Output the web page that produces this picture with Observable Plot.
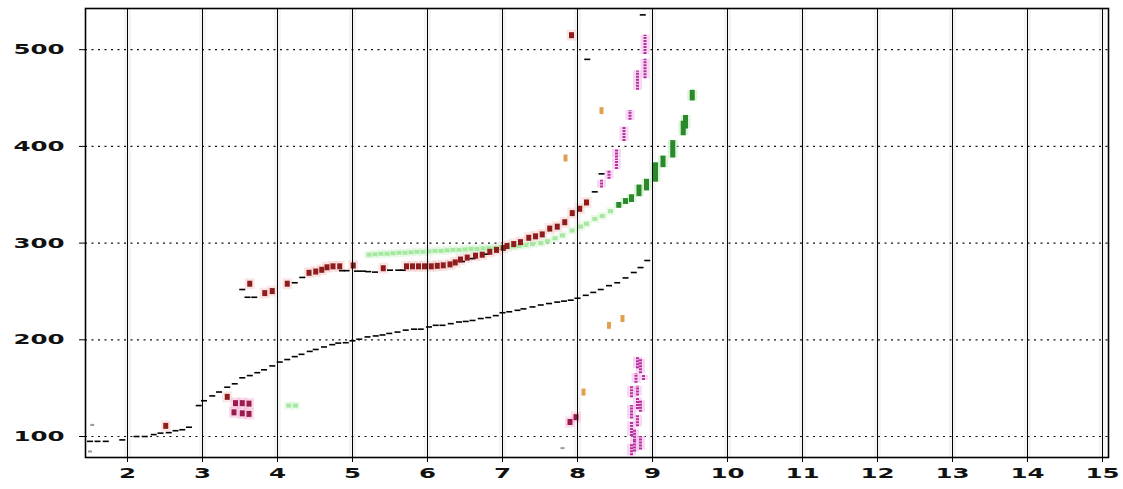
<!DOCTYPE html>
<html>
<head>
<meta charset="utf-8">
<script src="https://cdn.jsdelivr.net/npm/d3@7"></script>
<script src="https://cdn.jsdelivr.net/npm/@observablehq/plot@0.6"></script>
<style>
  html, body { margin: 0; padding: 0; background: #fff; }
  #chart svg { display: block; }
</style>
</head>
<body>
<div id="chart"></div>
<script>
// Axis ticks
const xTicks = [2, 3, 4, 5, 6, 7, 8, 9, 10, 11, 12, 13, 14, 15];
const yTicks = [100, 200, 300, 400, 500];

// Lower black dashed trace
const lowerX = [1.50, 1.60, 1.71, 1.93, 2.12, 2.23, 2.35, 2.44, 2.55, 2.64, 2.73, 2.82,
  2.95, 3.02, 3.13, 3.22, 3.33, 3.43, 3.53, 3.63, 3.73, 3.82, 3.93, 4.03, 4.13, 4.23, 4.32,
  4.43, 4.51, 4.62, 4.73, 4.81, 4.91, 5.00, 5.09, 5.20, 5.31, 5.40, 5.49, 5.60, 5.71, 5.82,
  5.91, 6.02, 6.11, 6.20, 6.31, 6.42, 6.51, 6.60, 6.71, 6.81, 6.91, 7.00, 7.09, 7.20, 7.28,
  7.40, 7.51, 7.62, 7.73, 7.82, 7.91, 8.00, 8.11, 8.21, 8.31, 8.42, 8.53, 8.64, 8.75, 8.84, 8.93];
const lowerY = [95, 95, 95, 96.5, 100, 100, 102, 103.5, 104, 106, 107, 109.6,
  132, 137, 142, 146, 151, 154.5, 160.7, 163, 166, 169, 173, 177, 179.6, 182.6, 185,
  188, 190, 192.6, 195, 196.6, 197, 199, 200.6, 203, 204, 205, 206.6, 208, 210, 211,
  211, 213.3, 215, 215, 216.7, 218.4, 219, 220, 222, 223, 225, 228, 229, 230.5, 232,
  234, 236, 237.5, 239, 240, 241, 243, 246, 249, 252, 256, 259, 264, 269.6, 274.7, 282];

// Upper black dashes (partly hidden under the red trace)
const upperX = [3.53, 3.60, 3.69, 4.23, 4.33, 4.86, 4.92, 5.06, 5.14, 5.21, 5.30, 5.50, 5.61, 5.67,
  6.46, 6.60, 6.78, 7.00, 8.23, 8.32, 8.13, 8.87];
const upperY = [252, 244, 244, 259, 264.5, 271.5, 271.5, 271, 271, 270.5, 270, 272, 272, 272,
  281, 284, 288.5, 294, 353, 371.6, 490, 536];

// Dark red trace
const redX = [2.51, 3.33, 3.63, 3.83, 3.93, 4.13, 4.42, 4.51, 4.59, 4.66, 4.74, 4.83, 5.01, 5.41,
  5.72, 5.80, 5.88, 5.96, 6.05, 6.13, 6.21, 6.30, 6.37, 6.44, 6.53, 6.64, 6.73, 6.83, 6.92,
  7.01, 7.06, 7.15, 7.24, 7.35, 7.44, 7.53, 7.63, 7.73, 7.83, 7.93, 8.03, 8.12, 7.92];
const redY = [111, 141, 258, 248.3, 250.4, 258, 269.3, 270.6, 272.4, 275, 276, 276, 276.8, 274,
  276, 276, 276, 276, 276, 276.5, 277, 278, 280, 283, 285, 287, 288, 291, 293,
  295, 297, 299, 301, 305.5, 307, 309, 315, 317, 321.6, 331, 335.5, 342, 515];

// Crimson cluster near x = 3.5
const crimsonX = [3.44, 3.53, 3.62, 3.42, 3.53, 3.62, 7.98, 7.90];
const crimsonY = [134.5, 134.5, 134, 125, 124, 123.4, 120, 115];

// Pale green trace
const paleX = [4.15, 4.24, 5.22, 5.30, 5.38, 5.46, 5.54, 5.62, 5.70, 5.78, 5.86, 5.94, 6.02, 6.10,
  6.18, 6.26, 6.34, 6.42, 6.50, 6.58, 6.66, 6.74, 6.82, 6.90, 6.98, 7.06, 7.14, 7.22, 7.31,
  7.40, 7.51, 7.60, 7.70, 7.80, 7.93, 8.04, 8.12, 8.23, 8.33, 8.44];
const paleY = [132, 132, 288, 288.5, 289, 289, 289.5, 290, 290, 290.5, 291, 291, 291.5, 292,
  292, 292.5, 293, 293, 293.5, 294, 294, 294.5, 295, 295, 295.5, 296, 296.5, 297, 298,
  299, 300, 302, 305, 308, 313, 317, 320, 325, 328, 333];

// Dark green bars (low / high)
const greenX = [8.55, 8.64, 8.72, 8.82, 8.92, 9.04, 9.14, 9.27, 9.41, 9.44, 9.53];
const greenLo = [336, 340, 342, 348, 354, 363, 378, 388, 411, 418, 447];
const greenHi = [342, 346, 350, 360, 366, 383, 390, 406, 426, 432, 458];

// Magenta bars (low / high)
const magX = [8.32, 8.42, 8.52, 8.52, 8.62, 8.70, 8.80, 8.90, 8.90,
  8.72, 8.76, 8.80, 8.84, 8.72, 8.78, 8.84, 8.72, 8.80, 8.76, 8.84, 8.80, 8.88, 8.72, 8.80];
const magLo = [357, 366, 376, 388, 405, 427, 458, 470, 495,
  80, 95, 110, 125, 140, 155, 165, 100, 170, 84, 86, 128, 158, 118, 142];
const magHi = [365, 375, 387, 397, 420, 437, 478, 490, 515,
  92, 107, 122, 137, 152, 165, 180, 115, 182, 96, 100, 140, 163, 132, 152];

// Orange specks
const orangeX = [7.84, 8.32, 8.08, 8.60, 8.42];
const orangeY = [388, 437, 146, 222, 215];

// Grey specks
const greyX = [1.53, 1.50, 7.80];
const greyY = [112, 84.5, 88];

const pts = (xs, ys) => xs.map((x, i) => ({x, y: ys[i]}));
const bars = (xs, lo, hi) => xs.map((x, i) => ({x, y1: lo[i], y2: hi[i]}));

// fixed-size rectangular symbols
const box = (w, h) => ({draw(ctx) { ctx.rect(-w / 2, -h / 2, w, h); }});

const chart = Plot.plot({
  width: 1123,
  height: 489,
  marginLeft: 85,
  marginRight: 15,
  marginTop: 8,
  marginBottom: 32,
  style: {background: "#fff", fontFamily: "DejaVu Sans"},
  x: {domain: [1.44, 15.08]},
  y: {domain: [78.3, 542.6]},
  marks: [
    // soft shading behind the vertical grid
    Plot.ruleX(xTicks, {stroke: "#e6e6e6", strokeWidth: 7, strokeOpacity: 0.45}),
    Plot.ruleX(xTicks, {stroke: "#222", strokeWidth: 1, strokeDasharray: "1,2", shapeRendering: "crispEdges"}),
    Plot.ruleY(yTicks, {stroke: "#111", strokeWidth: 1.2, strokeDasharray: "2,4.5"}),

    // halos
    Plot.dot(pts(redX, redY), {x: "x", y: "y", symbol: box(10, 11), fill: "#f6c8c8", fillOpacity: 0.45}),
    Plot.dot(pts(crimsonX, crimsonY), {x: "x", y: "y", symbol: box(10, 11), fill: "#f6b8d8", fillOpacity: 0.5}),
    Plot.dot(pts(paleX, paleY), {x: "x", y: "y", symbol: box(9, 8), fill: "#d8f6d8", fillOpacity: 0.5}),
    Plot.ruleX(bars(magX, magLo, magHi), {x: "x", y1: "y1", y2: "y2", stroke: "#f4c0ec", strokeWidth: 9, strokeOpacity: 0.6}),
    Plot.ruleX(bars(greenX, greenLo, greenHi), {x: "x", y1: "y1", y2: "y2", stroke: "#c8ecc8", strokeWidth: 10, strokeOpacity: 0.6}),

    Plot.dot(pts(lowerX, lowerY), {x: "x", y: "y", symbol: box(6, 1.6), fill: "#000"}),
    Plot.dot(pts(upperX, upperY), {x: "x", y: "y", symbol: box(6, 1.6), fill: "#000"}),
    Plot.dot(pts(paleX, paleY), {x: "x", y: "y", symbol: box(5, 4), fill: "#a6e8a0"}),
    Plot.dot(pts(redX, redY), {x: "x", y: "y", symbol: box(5, 6), fill: "#8e1c1c"}),
    Plot.dot(pts(crimsonX, crimsonY), {x: "x", y: "y", symbol: box(5, 6), fill: "#9a1a4e"}),
    Plot.ruleX(bars(greenX, greenLo, greenHi), {x: "x", y1: "y1", y2: "y2", stroke: "#2a8a2a", strokeWidth: 5}),
    Plot.ruleX(bars(magX, magLo, magHi), {x: "x", y1: "y1", y2: "y2", stroke: "#b8309c", strokeWidth: 3, strokeDasharray: "2,1"}),
    Plot.dot(pts(orangeX, orangeY), {x: "x", y: "y", symbol: box(4, 7), fill: "#e0a050"}),
    Plot.dot(pts(greyX, greyY), {x: "x", y: "y", symbol: box(4, 2), fill: "#999"}),

    Plot.frame({stroke: "#000", strokeWidth: 1.6}),
    Plot.axisX(xTicks, {tickSize: 5, tickPadding: 6, label: null, fontSize: 14, fontWeight: "bold"}),
    Plot.tickX(xTicks, {x: d => d, y1: 81, y2: 80, stroke: "#000"}),
    Plot.axisY(yTicks, {tickSize: 6, tickPadding: 15, label: null, fontSize: 14, fontWeight: "bold"})
  ]
});

// stretch tick labels horizontally to the wide lettering of this chart
d3.select(chart).selectAll("g[aria-label$='tick label'] text").each(function () {
  const t = this.getAttribute("transform");
  if (t) {
    this.setAttribute("transform", t + " scale(1.75,1)");
  } else {
    const x = +this.getAttribute("x") || 0, y = +this.getAttribute("y") || 0;
    this.removeAttribute("x"); this.removeAttribute("y");
    this.setAttribute("transform", `translate(${x},${y}) scale(1.75,1)`);
  }
});
d3.select(chart).selectAll("g[aria-label$='tick label']").attr("fill", "#111");

document.getElementById("chart").appendChild(chart);
</script>
</body>
</html>
